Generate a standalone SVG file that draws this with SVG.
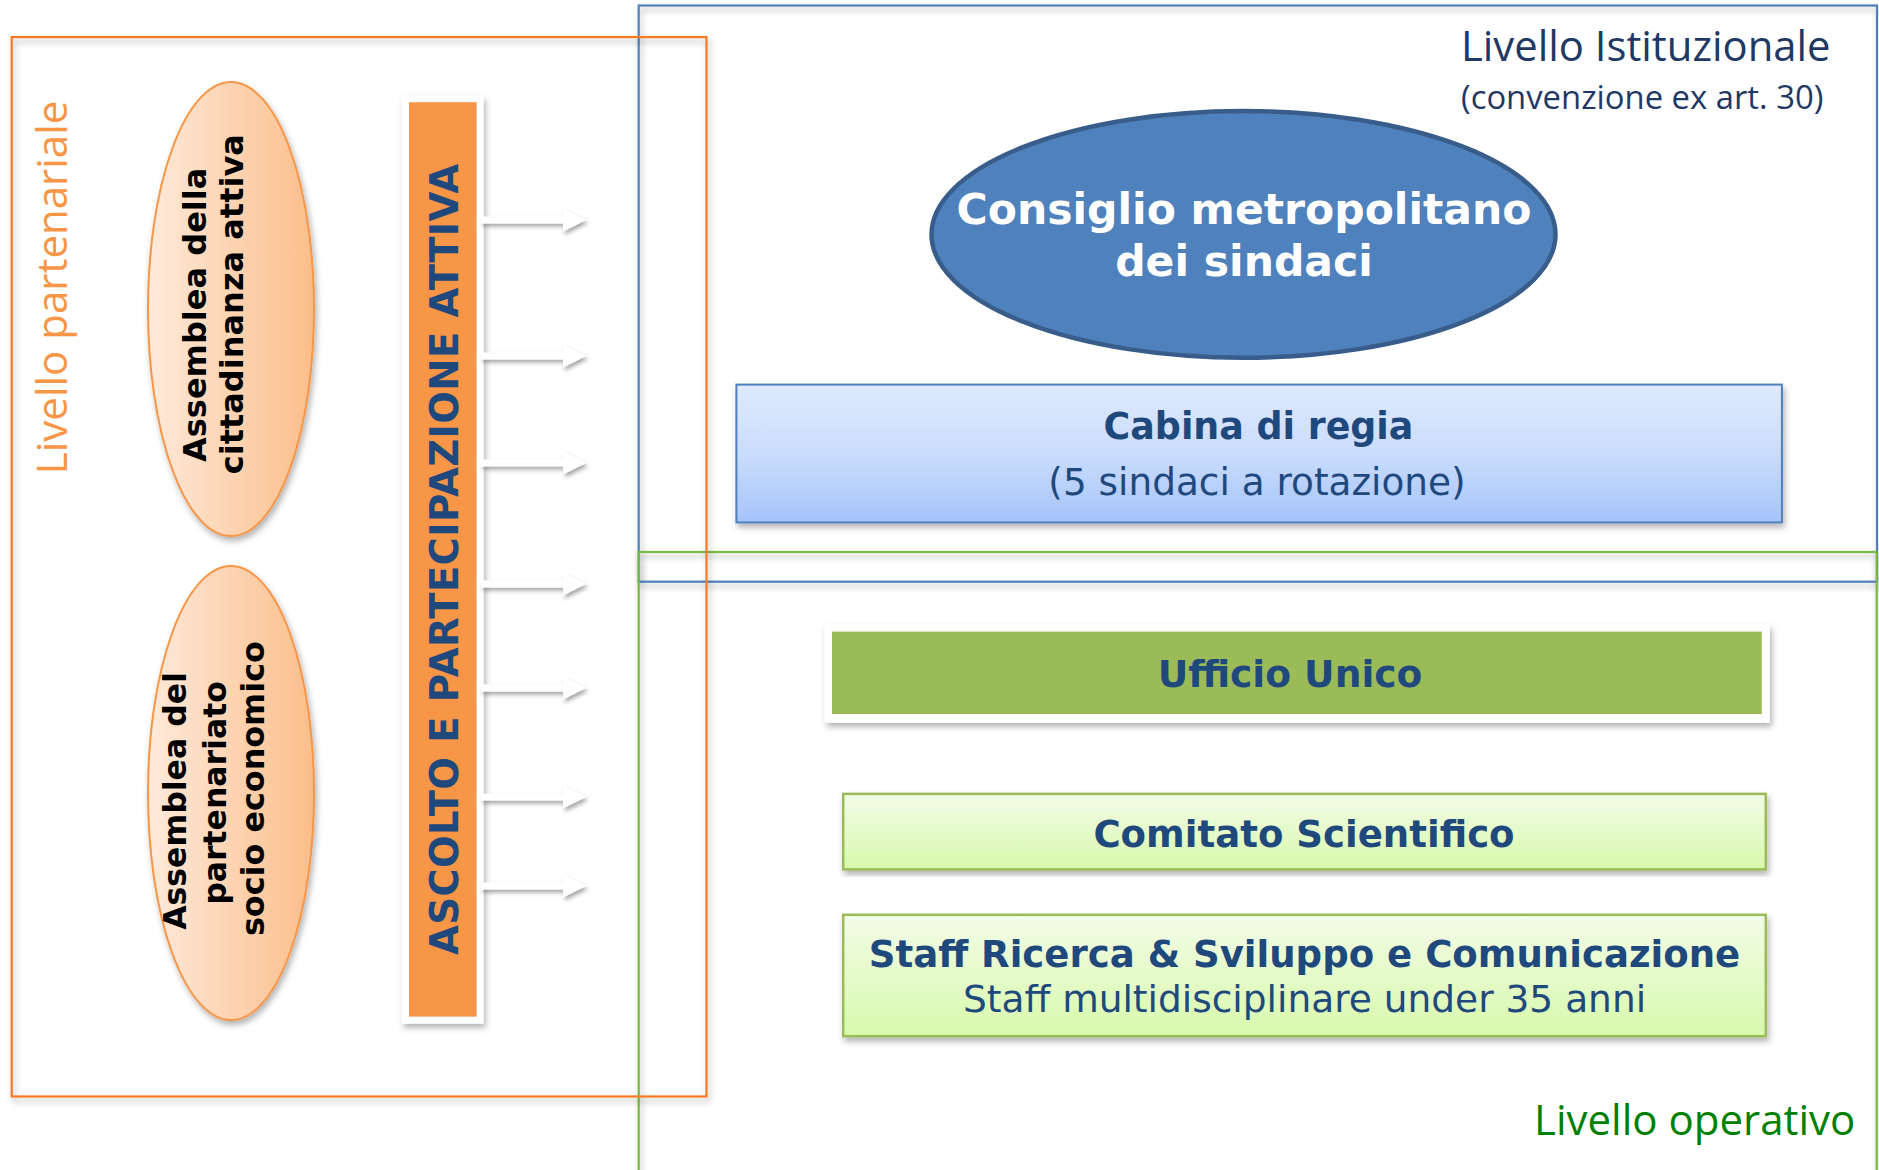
<svg xmlns="http://www.w3.org/2000/svg" width="1879" height="1170" viewBox="0 0 1879 1170">
<style>
.frame{fill:none;stroke-width:2.2}
.os{font-family:"Open Sans","Noto Sans",sans-serif}
.vb{font-family:"DejaVu Sans","Liberation Sans",sans-serif;font-weight:bold}
.vr{font-family:"DejaVu Sans","Liberation Sans",sans-serif}
.mid{text-anchor:middle}
.navy{fill:#1F497D}
</style>
<defs>
<filter id="sh" x="-5%" y="-5%" width="115%" height="115%">
<feDropShadow dx="2" dy="4" stdDeviation="3" flood-color="#000" flood-opacity="0.3"/>
</filter>
<filter id="shs" x="-20%" y="-50%" width="150%" height="250%">
<feDropShadow dx="2" dy="3" stdDeviation="2" flood-color="#000" flood-opacity="0.35"/>
</filter>
<linearGradient id="peach" x1="0" y1="0" x2="1" y2="0">
<stop offset="0" stop-color="#FEEADB"/>
<stop offset="1" stop-color="#FBBE8A"/>
</linearGradient>
<linearGradient id="blueg" x1="0" y1="0" x2="0" y2="1">
<stop offset="0" stop-color="#DFEAFD"/>
<stop offset="0.5" stop-color="#CADCFC"/>
<stop offset="1" stop-color="#A5C4F9"/>
</linearGradient>
<linearGradient id="greeng" x1="0" y1="0" x2="0" y2="1">
<stop offset="0" stop-color="#F2FCE8"/>
<stop offset="1" stop-color="#D8F9AB"/>
</linearGradient>
<path id="barrow" d="M0,-3.5 H82 V-11.5 L105,0 L82,11.5 V3.5 H0 Z"/>
</defs>

<g id="frames">
<rect id="frame-istituzionale" class="frame" x="638.7" y="5.5" width="1238.3" height="576.2" stroke="#4F81BD" filter="url(#sh)"/>
<rect id="frame-operativo" class="frame" x="638.7" y="552" width="1238" height="700" stroke="#7AB940" filter="url(#sh)"/>
<rect id="frame-partenariale" class="frame" x="11.7" y="37.1" width="694.8" height="1059.4" stroke="#F47A22" filter="url(#sh)"/>
</g>

<g id="label-partenariale">
<text class="os mid" font-size="42" fill="#F79646" transform="translate(66.7,287.4) rotate(-90)">Livello partenariale</text>
</g>
<g id="label-istituzionale">
<text class="os" x="1461" y="61" font-size="41.8" fill="#1F3864">Livello Istituzionale</text>
<text class="os" x="1461" y="109" font-size="32.8" fill="#1F3864">(convenzione ex art. 30)</text>
</g>
<g id="label-operativo">
<text class="os" x="1534" y="1135" font-size="42" fill="#008000">Livello operativo</text>
</g>

<g id="assemblea-cittadinanza">
<ellipse cx="231" cy="309" rx="83" ry="227" fill="url(#peach)" stroke="#F79646" stroke-width="2" filter="url(#sh)"/>
<text class="vb mid" font-size="32" fill="#000" transform="translate(205.7,314.8) rotate(-90)">Assemblea della</text>
<text class="vb mid" font-size="32" fill="#000" transform="translate(243.3,304.2) rotate(-90)">cittadinanza attiva</text>
</g>

<g id="assemblea-partenariato">
<ellipse cx="231" cy="793" rx="83" ry="227" fill="url(#peach)" stroke="#F79646" stroke-width="2" filter="url(#sh)"/>
<text class="vb mid" font-size="31.5" fill="#000" transform="translate(186,801) rotate(-90)">Assemblea del</text>
<text class="vb mid" font-size="31.5" fill="#000" transform="translate(226,793) rotate(-90)">partenariato</text>
<text class="vb mid" font-size="31.8" fill="#000" transform="translate(264,788.6) rotate(-90)">socio economico</text>
</g>

<g id="ascolto">
<rect x="401.7" y="95.7" width="81.8" height="928" fill="#FFFFFF" filter="url(#sh)"/>
<rect x="409" y="102.2" width="67.6" height="914.4" fill="#F79646"/>
<text class="vb mid navy" font-size="38.6" textLength="791" transform="translate(458,559.5) rotate(-90)">ASCOLTO E PARTECIPAZIONE ATTIVA</text>
</g>

<g id="connectors" fill="#FFFFFF" filter="url(#shs)">
<use href="#barrow" x="481" y="220"/>
<use href="#barrow" x="481" y="356"/>
<use href="#barrow" x="481" y="463"/>
<use href="#barrow" x="481" y="584"/>
<use href="#barrow" x="481" y="688"/>
<use href="#barrow" x="481" y="797"/>
<use href="#barrow" x="481" y="886"/>
</g>

<g id="consiglio">
<ellipse cx="1243.5" cy="234.4" rx="312" ry="123.4" fill="#4F81BD" stroke="#385D8A" stroke-width="4.5"/>
<text class="vb mid" font-size="42.5" fill="#FFFFFF" x="1244" y="224">Consiglio metropolitano</text>
<text class="vb mid" font-size="42.5" fill="#FFFFFF" x="1244" y="275.5">dei sindaci</text>
</g>

<g id="cabina">
<rect x="736.4" y="384.6" width="1045.5" height="137.8" fill="url(#blueg)" stroke="#4F81BD" stroke-width="2" filter="url(#sh)"/>
<text class="vb mid navy" font-size="36.4" x="1258.5" y="439.3">Cabina di regia</text>
<text class="vr mid navy" font-size="37.4" x="1257" y="494.5">(5 sindaci a rotazione)</text>
</g>

<g id="ufficio">
<rect x="824.8" y="624.4" width="945" height="98.4" fill="#FFFFFF" filter="url(#sh)"/>
<rect x="832" y="631.6" width="929.8" height="82.4" fill="#9BBB59"/>
<text class="vb mid navy" font-size="37.6" x="1290" y="687.4">Ufficio Unico</text>
</g>

<g id="comitato">
<rect x="843.2" y="793.9" width="922.6" height="75.5" fill="url(#greeng)" stroke="#9BBB59" stroke-width="2.5" filter="url(#sh)"/>
<text class="vb mid navy" font-size="37.1" x="1304" y="846.5">Comitato Scientifico</text>
</g>

<g id="staff">
<rect x="843.2" y="914.8" width="922.6" height="121.4" fill="url(#greeng)" stroke="#9BBB59" stroke-width="2.5" filter="url(#sh)"/>
<text class="vb mid navy" font-size="37.1" x="1304.5" y="966.7">Staff Ricerca &amp; Sviluppo e Comunicazione</text>
<text class="vr mid navy" font-size="37.5" x="1304.5" y="1012">Staff multidisciplinare under 35 anni</text>
</g>
</svg>
